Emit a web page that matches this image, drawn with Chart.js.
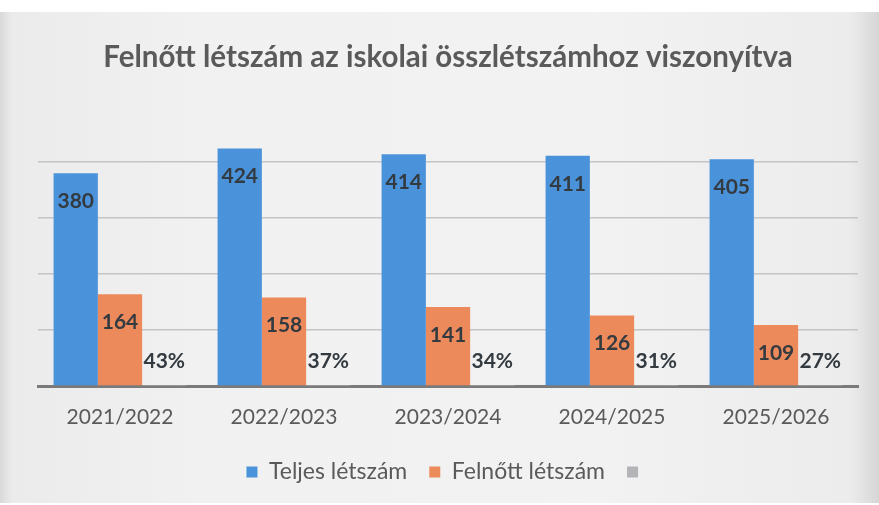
<!DOCTYPE html>
<html lang="hu">
<head>
  <meta charset="UTF-8" />
  <title>Felnőtt létszám az iskolai összlétszámhoz viszonyítva</title>
  <script src="https://cdn.jsdelivr.net/npm/chart.js"></script>
  <style>
    html, body { margin: 0; padding: 0; }
    body {
      width: 879px; height: 505px; overflow: hidden;
      background: #fff;
    }
    #lap {
      position: absolute; left: 0; top: 12px; width: 879px; height: 491px;
      background: linear-gradient(to right, #d9d9d9 0px, #ebebeb 12px, #f1f1f1 200px, #f2f2f2 600px, #ececec 850px, #d6d6d6 879px);
    }
    #wrap { position: absolute; left: 0; top: 0; width: 879px; height: 505px; }
  </style>
</head>
<body>
  <div id="lap"></div>
  <div id="wrap"><canvas id="chart" width="879" height="505"></canvas></div>

  <script>
    const tanevek = ['2021/2022', '2022/2023', '2023/2024', '2024/2025', '2025/2026'];
    const teljes = [380, 424, 414, 411, 405];
    const felnott = [164, 158, 141, 126, 109];
    const arany = [43, 37, 34, 31, 27]; // százalék

    const betu = 'Lato, "Open Sans", sans-serif';

    // címkék az oszlopokra (nincs datalabels plugin, kézzel rajzoljuk)
    const cimkek = {
      id: 'cimkek',
      afterDatasetsDraw(chart) {
        const ctx = chart.ctx;
        ctx.save();
        ctx.font = 'bold 21px ' + betu;
        ctx.fillStyle = '#333a40';
        ctx.textAlign = 'center';
        ctx.textBaseline = 'middle';
        chart.data.datasets.forEach((ds, i) => {
          const meta = chart.getDatasetMeta(i);
          meta.data.forEach((bar, j) => {
            if (i < 2) {
              ctx.fillText(String(ds.data[j]), bar.x, bar.y + 28);
            } else {
              ctx.fillText(arany[j] + '%', bar.x, bar.base - 24);
            }
          });
        });
        ctx.restore();
      }
    };

    new Chart(document.getElementById('chart'), {
      type: 'bar',
      data: {
        labels: tanevek,
        datasets: [
          { label: 'Teljes létszám', data: teljes, backgroundColor: '#4a93da' },
          { label: 'Felnőtt létszám', data: felnott, backgroundColor: '#ec8a5b' },
          { label: '', data: arany.map(v => v / 100), backgroundColor: '#b4b4b8' }
        ]
      },
      options: {
        responsive: false,
        animation: false,
        layout: { padding: { left: 38, right: 21, top: 0, bottom: 11.5 } },
        datasets: { bar: { categoryPercentage: 0.81, barPercentage: 1 } },
        plugins: {
          title: {
            display: true,
            text: 'Felnőtt létszám az iskolai összlétszámhoz viszonyítva',
            color: '#5a5a5a',
            font: { family: betu, size: 29.5, weight: 'bold', lineHeight: 1.2 },
            padding: { top: 40, bottom: 58.6 }
          },
          legend: {
            position: 'bottom',
            labels: {
              boxWidth: 11,
              boxHeight: 11,
              padding: 22,
              color: '#5a5a5a',
              font: { family: betu, size: 23 }
            }
          },
          tooltip: { enabled: false }
        },
        scales: {
          x: {
            grid: { display: false, drawTicks: false },
            border: { color: '#7a7a7a', width: 3 },
            ticks: {
              color: '#5a5a5a',
              padding: 19,
              font: { family: betu, size: 21, lineHeight: 1.143 }
            },
            afterFit: s => { s.height = 52.5; }
          },
          y: {
            min: 0,
            max: 450,
            ticks: { display: false, stepSize: 100 },
            border: { display: false },
            grid: {
              drawTicks: false,
              lineWidth: 1.5,
              color: c => (c.tick && c.tick.value > 0 && c.tick.value % 100 === 0) ? '#c4c4c4' : 'rgba(0,0,0,0)'
            }
          }
        }
      },
      plugins: [cimkek]
    });
  </script>
</body>
</html>
